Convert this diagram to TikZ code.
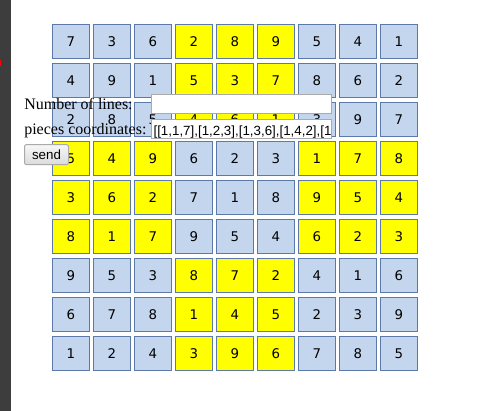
\documentclass[tikz,border=0pt]{standalone}
\usepackage[RGB]{xcolor}
\usepackage{tikz}
\usepackage{fontspec}
\setmainfont{Liberation Serif}
\newfontfamily\cellfont{DejaVu Sans}
\newfontfamily\formfont{Liberation Sans}
\definecolor{B}{RGB}{196,213,238}
\definecolor{Y}{RGB}{255,255,0}
\definecolor{E}{RGB}{92,121,170}
\definecolor{D}{RGB}{60,61,60}
\definecolor{G}{RGB}{170,170,170}
\newcommand{\labeltext}{\fontsize{12}{14}\selectfont}
\tikzset{
  cell/.style={draw=E, line width=0.75pt, inner sep=0pt, minimum width=27.5pt,
    minimum height=25.7pt, font=\cellfont\fontsize{10}{12}\selectfont},
  inputbox/.style={draw=G, fill=white, line width=0.75pt, inner sep=0pt,
    minimum width=135pt, minimum height=14.3pt},
  sendbtn/.style={draw=G, line width=0.75pt, rounded corners=1.5pt, inner sep=0pt,
    top color=white!97!black, bottom color=white!86!black,
    minimum width=33pt, minimum height=15pt, font=\formfont\fontsize{10}{12}\selectfont}
}
\begin{document}
\begin{tikzpicture}[x=0.75pt, y=-0.75pt]
\useasboundingbox (0,0) rectangle (483,411);
\fill[D] (0,0) rectangle (11,411);
\fill[red] (0,60) rectangle (1.2,66);
\foreach \line [count=\r] in {{7,3,6,2,8,9,5,4,1},{4,9,1,5,3,7,8,6,2},{2,8,5,4,6,1,3,9,7},
    {5,4,9,6,2,3,1,7,8},{3,6,2,7,1,8,9,5,4},{8,1,7,9,5,4,6,2,3},
    {9,5,3,8,7,2,4,1,6},{6,7,8,1,4,5,2,3,9},{1,2,4,3,9,6,7,8,5}}{
  \foreach \v [count=\c] in \line {
    \pgfmathtruncatemacro{\blk}{mod(int((\r-1)/3)+int((\c-1)/3),2)}
    \ifnum\blk=1 \def\fillc{Y}\else\def\fillc{B}\fi
    \node[cell, fill=\fillc] (c\r\c) at ({70.85+41*(\c-1)},{41.65+39*(\r-1)}) {\v};
  }
}
\node[anchor=base west, inner sep=0pt, font=\labeltext] (lines) at (24,109) {Number of lines:};
\node[anchor=base west, inner sep=0pt, font=\labeltext] (pieces) at (24,134) {pieces coordinates:};
\node[inputbox] (linesbox) at (241.5,104.3) {};
\node[inputbox] (piecesbox) at (241.5,129.3) {};
\begin{scope}
  \clip (piecesbox.south west) rectangle (piecesbox.north east);
  \node[anchor=base west, inner sep=0pt, font=\formfont\fontsize{10}{12}\selectfont] (piecestext)
    at (153.3,135) {[[1,1,7],[1,2,3],[1,3,6],[1,4,2],[1};
\end{scope}
\node[sendbtn] (send) at (46.5,154.6) {send};
\end{tikzpicture}
\end{document}
